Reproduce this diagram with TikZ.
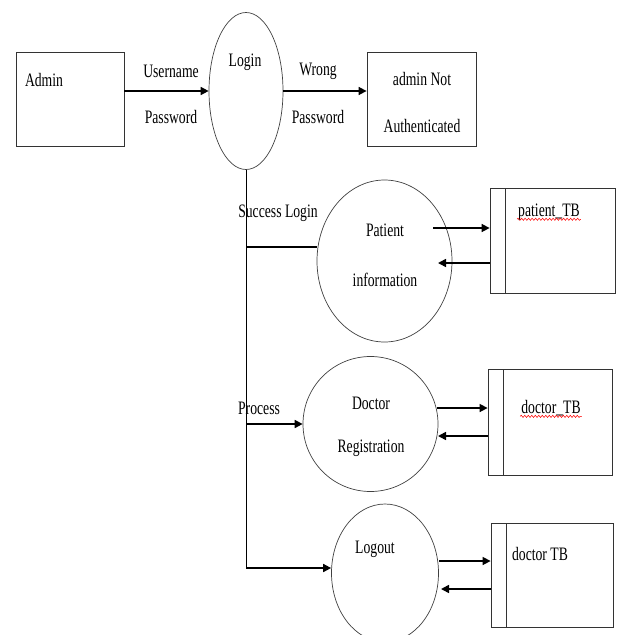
\documentclass[tikz,border=0pt]{standalone}
\usepackage{fontspec}
\setmainfont{Liberation Serif}[FakeStretch=0.72]
\usetikzlibrary{positioning, arrows.meta, shapes.geometric, decorations.pathmorphing}

\begin{document}
\begin{tikzpicture}[
  x=1pt, y=-1pt,
  every node/.style={font=\fontsize{19}{21}\selectfont, inner sep=1pt},
  entity/.style={
    draw=black!80,
    line width=0.8pt,
    minimum width=108pt,
    minimum height=94pt
  },
  proc/.style={
    ellipse,
    draw=black!75,
    line width=0.7pt
  },
  store/.style={
    draw=black!80,
    line width=0.8pt,
    path picture={
      \draw[black!80, line width=0.8pt]
        ([xshift=15pt]path picture bounding box.north west) --
        ([xshift=15pt]path picture bounding box.south west);
    }
  },
  conn/.style={line width=1pt},
  flow/.style={-{Triangle[length=8pt,width=8pt]}, line width=1.6pt},
  spell/.style={
    red,
    line width=0.5pt,
    decorate,
    decoration={snake, amplitude=1.1pt, segment length=3.5pt}
  }
]
\useasboundingbox (0,0) rectangle (617,635);

% external entities and login
\node[entity] (admin) at (70,99) {};
\node (admintext) at (44,80) {Admin};

\node[proc, minimum width=74pt, minimum height=157pt] (login) at (246,91) {};
\node (logintext) at (245,62) {Login};

\node[entity, minimum width=109pt] (notauth) at (421.5,99) {};
\node (notauth1) at (422,79) {admin Not};
\node (notauth2) at (422,126) {Authenticated};

\draw[flow] (admin.east |- login.west) -- (login.west);
\node (user) at (171,71) {Username};
\node (pass1) at (171,117) {Password};

\draw[flow] (login.east) -- (notauth.west |- login.east);
\node (wrong) at (318,71) {Wrong};
\node (pass2) at (318,117) {Password};

% processes
\node[proc, minimum width=135pt, minimum height=162pt] (pinfo) at (384.5,261) {};
\node (pinfo1) at (385,230) {Patient};
\node (pinfo2) at (385,280) {information};

\node[proc, minimum width=135pt, minimum height=135pt] (dreg) at (370.5,424) {};
\node (dreg1) at (371,403) {Doctor};
\node (dreg2) at (371,448) {Registration};

\node[proc, minimum width=107pt, minimum height=138pt] (logout) at (385,573) {};
\node (logouttext) at (375,549) {Logout};

% data stores
\node[store, minimum width=125pt, minimum height=105pt] (ptb) at (552.5,240.5) {};
\node (ptbtext) at (549,212) {patient\_TB};
\draw[spell] ([yshift=-3pt]ptbtext.base west) -- ([yshift=-3pt]ptbtext.base east);

\node[store, minimum width=124pt, minimum height=106pt] (dtb) at (550,422) {};
\node (dtbtext) at (551,408) {doctor\_TB};
\draw[spell] ([yshift=-3pt]dtbtext.base west) -- ([yshift=-3pt]dtbtext.base east);

\node[store, minimum width=122pt, minimum height=104pt] (ltb) at (552,575) {};
\node (ltbtext) at (540,554) {doctor TB};

% login branches
\path ([yshift=14pt]pinfo.west) coordinate (succ);
\path ([yshift=5pt]logout.west -| login.south) coordinate (bend);
\draw[conn] (login.south) -- (bend);
\draw[flow] (bend) -- (bend -| logout.west);
\draw[conn, line width=1.3pt] (succ -| login.south) -- (succ);
\node (success) at (278,213) {Success Login};
\draw[flow] (login.south |- dreg.west) -- (dreg.west);
\node (process) at (259,408) {Process};

% store flows
\coordinate (pout) at (433,228);
\coordinate (pin) at (438,263);
\draw[flow] (pout) -- (pout -| ptb.west);
\draw[flow] (pin -| ptb.west) -- (pin);

\coordinate (dout) at (437,408);
\coordinate (din) at (438,436);
\draw[flow] (dout) -- (dout -| dtb.west);
\draw[flow] (din -| dtb.west) -- (din);

\coordinate (lout) at (439,561);
\coordinate (lin) at (441,589);
\draw[flow] (lout) -- (lout -| ltb.west);
\draw[flow] (lin -| ltb.west) -- (lin);

\end{tikzpicture}
\end{document}
